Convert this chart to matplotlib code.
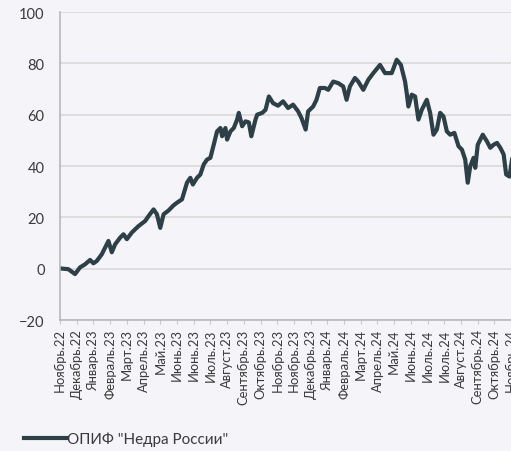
import matplotlib.pyplot as plt

# trading-day index and fund return, %
days = [0, 10, 18, 24, 30, 36, 40, 44, 50, 54, 58, 62, 66, 72, 76, 80, 86, 94,
        102, 106, 112, 116, 120, 124, 130, 136, 140, 146, 152, 156, 159, 164,
        168, 172, 176, 180, 184, 188, 192, 194, 198, 200, 204, 208, 212, 214,
        218, 222, 226, 229, 234, 236, 242, 246, 250, 255, 261, 267, 273, 279,
        285, 289, 294, 297, 303, 307, 311, 317, 321, 327, 333, 339, 343, 347,
        353, 357, 363, 369, 375, 383, 389, 397, 403, 408, 413, 415, 417, 421,
        425, 429, 433, 439, 443, 447, 451, 455, 459, 463, 467, 472, 477, 481,
        485, 488, 491, 495, 497, 500, 506, 511, 515, 519, 523, 527, 531, 534,
        538, 541, 545]
values = [0.1, -0.2, -2.1, 0.5, 1.7, 3.4, 2.1, 3.0, 5.6, 8.2, 10.8, 6.4, 9.5,
          12.1, 13.4, 11.5, 14.1, 16.6, 18.6, 20.5, 23.1, 21.2, 15.9, 21.2,
          22.7, 24.7, 25.7, 27.0, 33.5, 35.4, 32.8, 35.4, 36.7, 40.6, 42.5,
          43.2, 48.3, 53.5, 54.8, 51.6, 54.8, 50.3, 53.5, 54.8, 58.1, 60.7,
          55.5, 57.4, 57.0, 51.6, 58.1, 60.0, 60.7, 61.9, 67.1, 64.5, 63.5,
          65.2, 62.6, 63.9, 61.3, 58.7, 54.2, 61.3, 63.2, 65.8, 70.4, 70.4,
          69.7, 72.9, 72.3, 71.0, 65.8, 71.0, 74.3, 72.9, 69.7, 73.6, 76.2,
          79.4, 76.2, 76.2, 81.4, 79.4, 72.9, 68.4, 63.2, 67.8, 67.1, 58.1,
          61.9, 65.8, 60.7, 52.2, 54.2, 60.7, 59.3, 53.5, 52.2, 52.9, 47.7,
          46.4, 42.5, 33.5, 39.9, 43.2, 39.3, 48.3, 52.2, 49.6, 47.1, 48.3,
          49.0, 47.1, 44.5, 36.7, 35.9, 42.5, 45.0]

tick_labels = ['Ноябрь.22', 'Декабрь.22', 'Январь.23', 'Февраль.23', 'Март.23',
               'Апрель.23', 'Май.23', 'Июнь.23', 'Июнь.23', 'Июль.23',
               'Август.23', 'Сентябрь.23', 'Октябрь.23', 'Ноябрь.23',
               'Ноябрь.23', 'Декабрь.23', 'Январь.24', 'Февраль.24', 'Март.24',
               'Апрель.24', 'Май.24', 'Июнь.24', 'Июль.24', 'Июль.24',
               'Август.24', 'Сентябрь.24', 'Октябрь.24', 'Ноябрь.24']
tick_step = 20
series_name = 'ОПИФ "Недра России"'

plt.rcParams['font.family'] = ['Lato', 'DejaVu Sans']

bg = '#f5f5f9'
line_color = '#2e4047'
text_color = '#3a3a3a'

fig = plt.figure(figsize=(5.11, 4.52), dpi=100, facecolor=bg)
ax = fig.add_axes([0.1174, 0.2898, 0.932, 0.6814], facecolor=bg)

line, = ax.plot(days, values, color=line_color, linewidth=3.0,
                solid_joinstyle='round', label=series_name)

ax.set_xlim(0, 570)
ax.set_ylim(-20, 100)
ax.set_yticks(range(-20, 101, 20))
ax.set_xticks([i * tick_step for i in range(len(tick_labels))])
ax.set_xticklabels(tick_labels, rotation=90, fontsize=9.4, color=text_color)

ax.grid(axis='y', color='#d9d9d9', linewidth=1.2)
ax.set_axisbelow(True)
for s in ['top', 'right']:
    ax.spines[s].set_visible(False)
for s in ['left', 'bottom']:
    ax.spines[s].set_color('#b8b8b8')
    ax.spines[s].set_linewidth(1.2)

ax.tick_params(axis='y', length=0, pad=11, labelsize=10.5, labelcolor=text_color)
ax.tick_params(axis='x', length=3, color='#c8c8c8', pad=3)

fig.legend(handles=[line], loc='center left', bbox_to_anchor=(0.02, 0.026),
           frameon=False, fontsize=11, handlelength=2.8, handletextpad=0.0,
           labelcolor=text_color)

fig.savefig('out.png', dpi=100, facecolor=bg)
